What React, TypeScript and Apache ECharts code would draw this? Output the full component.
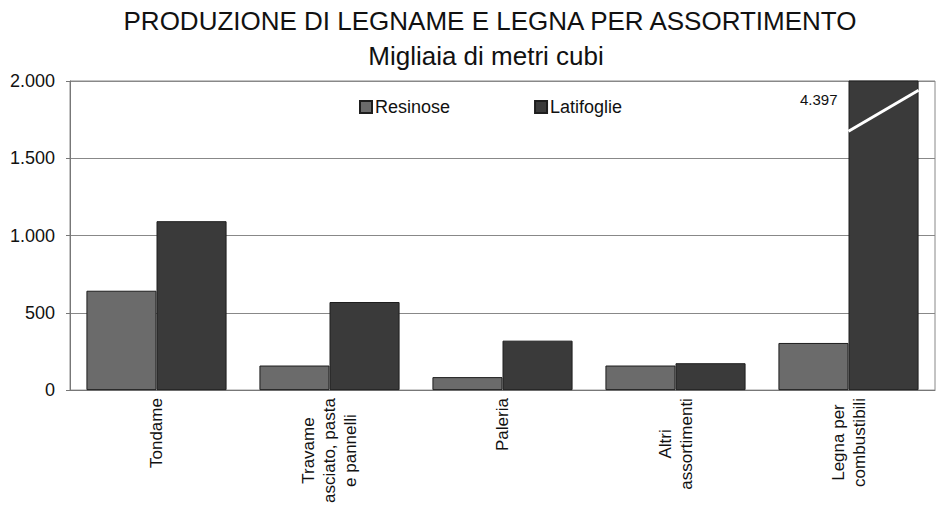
import React, { useEffect, useRef } from "react";
import * as echarts from "echarts";

const categories = [
  "Tondame",
  "Travame\nasciato, pasta\ne pannelli",
  "Paleria",
  "Altri\nassortimenti",
  "Legna per\ncombustibili",
];
const seriesNames = ["Resinose", "Latifoglie"];
const resinose = [643, 159, 84, 159, 305];
const latifoglie = [1093, 570, 320, 174, 4397];
const yTicks = [0, 500, 1000, 1500, 2000];

const Y_MAX = 2000;
const BREAK_LOW = 1675;
const BREAK_HIGH = 1940;
const BREAK_LABEL_AT = 1880;
const CAT_GAP = 0.19;

const fmt = (v: number) => String(v).replace(/\B(?=(\d{3})+(?!\d))/g, ".");

export default function App() {
  const ref = useRef<HTMLDivElement>(null);
  useEffect(() => {
    document.body.style.margin = "0";
    const chart = echarts.init(ref.current!, null, { renderer: "svg" });
    const font = "Liberation Sans, Arial, Helvetica, sans-serif";
    const overflow = latifoglie
      .map((v, i) => [i, v])
      .filter((d) => d[1] > Y_MAX);
    chart.setOption({
      animation: false,
      backgroundColor: "#fff",
      textStyle: { fontFamily: font },
      title: [
        {
          text: "PRODUZIONE DI LEGNAME E LEGNA PER ASSORTIMENTO",
          left: 490,
          top: 8,
          textAlign: "center",
          padding: 0,
          textStyle: { fontSize: 26, fontWeight: "normal", color: "#111", fontFamily: font },
        },
        {
          text: "Migliaia di metri cubi",
          left: 486,
          top: 43,
          textAlign: "center",
          padding: 0,
          textStyle: { fontSize: 26, fontWeight: "normal", color: "#111", fontFamily: font },
        },
      ],
      legend: {
        data: seriesNames,
        left: 359,
        top: 98,
        itemWidth: 12,
        itemHeight: 12,
        itemGap: 84,
        padding: 0,
        icon: "rect",
        textStyle: { fontSize: 18, color: "#111", fontFamily: font, padding: [0, 0, 0, -2] },
      },
      grid: {
        left: 70,
        right: 4,
        top: 81,
        bottom: 114,
        show: true,
        borderColor: "#888",
        borderWidth: 1,
        backgroundColor: "#fff",
      },
      xAxis: {
        type: "category",
        data: categories,
        axisLine: { show: true, lineStyle: { color: "#777" } },
        axisTick: { show: false },
        axisLabel: {
          rotate: 90,
          margin: 8,
          interval: 0,
          formatter: (v: string) =>
            v
              .split("\n")
              .map((l) => "{c|" + l + "}")
              .join("\n"),
          rich: {
            c: {
              align: "center",
              fontSize: 17,
              lineHeight: 21,
              color: "#111",
              fontFamily: font,
            },
          },
        },
      },
      yAxis: {
        type: "value",
        min: yTicks[0],
        max: Y_MAX,
        interval: yTicks[1] - yTicks[0],
        axisLine: { show: true, lineStyle: { color: "#777" } },
        axisTick: { show: true, length: 4, lineStyle: { color: "#777" } },
        splitLine: { lineStyle: { color: "#888", width: 1 } },
        axisLabel: {
          margin: 15,
          fontSize: 18,
          color: "#111",
          fontFamily: font,
          formatter: (v: number) => fmt(v),
        },
      },
      series: [
        {
          name: seriesNames[0],
          type: "bar",
          data: resinose,
          barGap: "0%",
          barCategoryGap: CAT_GAP * 100 + "%",
          itemStyle: { color: "#6b6b6b", borderColor: "#1e1e1e", borderWidth: 1 },
        },
        {
          name: seriesNames[1],
          type: "bar",
          data: latifoglie,
          barGap: "0%",
          barCategoryGap: CAT_GAP * 100 + "%",
          clip: true,
          itemStyle: { color: "#3a3a3a", borderColor: "#1e1e1e", borderWidth: 1 },
        },
        {
          name: "break",
          type: "custom",
          z: 5,
          silent: true,
          clip: false,
          data: overflow,
          renderItem: (params: any, api: any) => {
            const idx = api.value(0);
            const v = api.value(1);
            const c = api.coord([idx, 0]);
            const band = api.size([1, 0])[0];
            const barW = (band * (1 - CAT_GAP)) / 2;
            const x1 = c[0];
            const x2 = c[0] + barW;
            const p1 = api.coord([idx, BREAK_LOW]);
            const p2 = api.coord([idx, BREAK_HIGH]);
            const pl = api.coord([idx, BREAK_LABEL_AT]);
            return {
              type: "group",
              children: [
                {
                  type: "line",
                  shape: { x1: x1, y1: p1[1], x2: x2, y2: p2[1] },
                  style: { stroke: "#fff", lineWidth: 3 },
                },
                {
                  type: "text",
                  x: x1 - 11,
                  y: pl[1],
                  style: {
                    text: fmt(v),
                    align: "right",
                    verticalAlign: "middle",
                    fontSize: 15,
                    fill: "#111",
                    fontFamily: font,
                  },
                },
              ],
            };
          },
        },
      ],
    });
    return () => chart.dispose();
  }, []);
  return <div ref={ref} style={{ width: 939, height: 506 }} />;
}
